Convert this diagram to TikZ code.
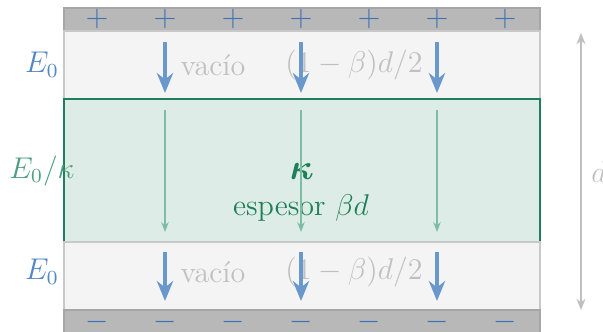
\documentclass[tikz,border=0pt]{standalone}
\usepackage{amsmath,bm}
\usetikzlibrary{arrows.meta}

\definecolor{platefill}{HTML}{B8B8B8}
\definecolor{plateborder}{HTML}{A6A6A6}
\definecolor{vacfill}{HTML}{F4F4F4}
\definecolor{vacborder}{HTML}{C8C8C8}
\definecolor{dielfill}{HTML}{DDECE6}
\definecolor{dielborder}{HTML}{1F7F5C}
\definecolor{fieldblue}{HTML}{6A98CC}
\definecolor{chargeblue}{HTML}{3D72B4}
\definecolor{eblue}{HTML}{5286C4}
\definecolor{fieldgreen}{HTML}{7CBDA4}
\definecolor{labelgray}{HTML}{C0C0C0}
\definecolor{kappagreen}{HTML}{4E9E80}

\begin{document}
\begin{tikzpicture}[x=0.4pt, y=-0.4pt, every node/.style={font=\large},
    plate/.style={draw=plateborder, fill=platefill, line width=0.8pt},
    vac/.style={draw=vacborder, fill=vacfill, line width=0.8pt},
    diel/.style={draw=dielborder, fill=dielfill, line width=0.8pt},
    field/.style={-{Stealth[length=8pt, width=6.5pt]}, line width=1.3pt, fieldblue},
    dfield/.style={-{Stealth[length=4pt, width=3pt]}, line width=0.5pt, fieldgreen},
    charge/.style={text=chargeblue},
    lbl/.style={text=labelgray}
]
\useasboundingbox (0,0) rectangle (603,332);

% Layers
\draw[plate] (64,8) rectangle (540,31);
\draw[vac] (64,31) rectangle (540,99);
\draw[diel] (64,99) rectangle (540,242);
\draw[vac] (64,242) rectangle (540,310);
\draw[plate] (64,310) rectangle (540,345);

% Charges
\foreach \i in {0,...,6} {
    \node[charge] (plus\i) at (97+68*\i,19) {$+$};
    \node[charge] (minus\i) at (97+68*\i,322) {$-$};
}

% Labels
\node[lbl] (vactop) at (213,65) {vac\'{\i}o};
\node[lbl] (thicktop) at (354,65) {$(1-\beta)d/2$};
\node[lbl] (vacbot) at (213,272) {vac\'{\i}o};
\node[lbl] (thickbot) at (354,272) {$(1-\beta)d/2$};
\node[text=eblue] (etop) at (42,65) {$E_0$};
\node[text=eblue] (ebot) at (42,272) {$E_0$};
\node[text=kappagreen] (ediel) at (42,171) {$E_0/\kappa$};
\node[text=dielborder, font=\Large] (kappa) at (302,172) {$\bm{\kappa}$};
\node[text=dielborder] (thick) at (301,208) {espesor $\beta d$};

% Field lines
\foreach \i/\x in {1/165,2/301,3/437} {
    \coordinate (a\i) at (\x,42);
    \coordinate (b\i) at (\x,93);
    \coordinate (c\i) at (\x,110);
    \coordinate (d\i) at (\x,232);
    \coordinate (e\i) at (\x,252);
    \coordinate (f\i) at (\x,301);
    \draw[field] (a\i) -- (b\i);
    \draw[dfield] (c\i) -- (d\i);
    \draw[field] (e\i) -- (f\i);
}

% Separation
\coordinate (dtop) at (581,33);
\coordinate (dbot) at (581,310);
\draw[{Stealth[length=4.5pt, width=3.6pt]}-{Stealth[length=4.5pt, width=3.6pt]}, labelgray, line width=0.6pt] (dtop) -- (dbot);
\node[lbl] (dlabel) at (599,172) {$d$};

\end{tikzpicture}
\end{document}
